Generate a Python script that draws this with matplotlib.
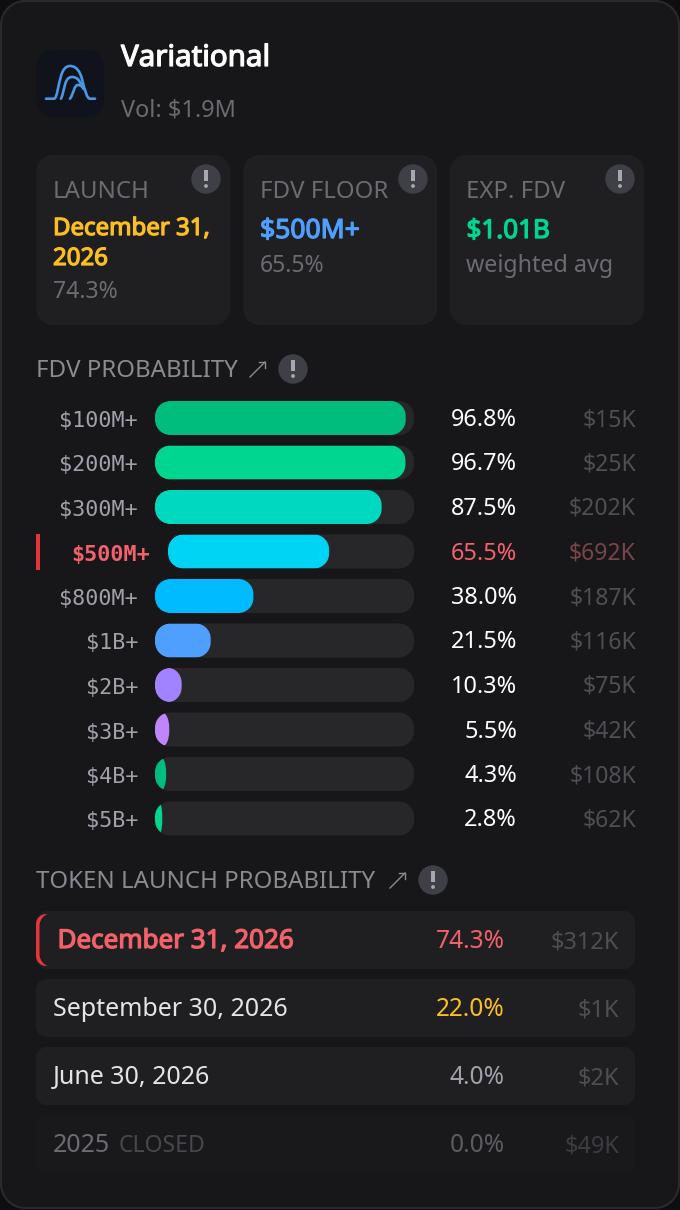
import matplotlib
matplotlib.use("Agg")
import matplotlib.pyplot as plt
import matplotlib.patheffects as pe
from matplotlib.patches import Circle, PathPatch, Rectangle
from matplotlib.path import Path

# fdv ladder
fdv_labels = ["$100M+", "$200M+", "$300M+", "$500M+", "$800M+", "$1B+", "$2B+", "$3B+", "$4B+", "$5B+"]
fdv_probs = [96.8, 96.7, 87.5, 65.5, 38.0, 21.5, 10.3, 5.5, 4.3, 2.8]
fdv_vols = ["$15K", "$25K", "$202K", "$692K", "$187K", "$116K", "$75K", "$42K", "$108K", "$62K"]
fdv_colors = ["#00bd7e", "#00d68f", "#00d9c0", "#00d4f5", "#00bbff", "#4f9fff", "#a183ff", "#c084fc", "#00bd7e", "#00d68f"]
fdv_active = 3

# launch dates
launch_dates = ["December 31, 2026", "September 30, 2026", "June 30, 2026", "2025"]
launch_probs = [74.3, 22.0, 4.0, 0.0]
launch_vols = ["$312K", "$1K", "$2K", "$49K"]
launch_pct_colors = ["#f2626b", "#fbbf24", "#a1a1aa", "#5c5c63"]

# summary tiles
tile_titles = ["LAUNCH", "FDV FLOOR", "EXP. FDV"]
tile_subs = ["74.3%", "65.5%", "weighted avg"]

FONT = "Noto Sans"
MONO = "DejaVu Sans Mono"

fig = plt.figure(figsize=(6.8, 12.1), dpi=100, facecolor="#0e0e10")
ax = fig.add_axes([0, 0, 1, 1])
ax.set_xlim(0, 680)
ax.set_ylim(1210, 0)
ax.axis("off")


def rrect(x0, y0, x1, y1, rx, ry=None):
    # rounded rectangle with elliptical corners
    ry = rx if ry is None else ry
    k = 0.45
    v = [(x0 + rx, y0), (x1 - rx, y0),
         (x1 - rx * k, y0), (x1, y0 + ry * k), (x1, y0 + ry),
         (x1, y1 - ry),
         (x1, y1 - ry * k), (x1 - rx * k, y1), (x1 - rx, y1),
         (x0 + rx, y1),
         (x0 + rx * k, y1), (x0, y1 - ry * k), (x0, y1 - ry),
         (x0, y0 + ry),
         (x0, y0 + ry * k), (x0 + rx * k, y0), (x0 + rx, y0), (x0 + rx, y0)]
    c = [Path.MOVETO, Path.LINETO,
         Path.CURVE4, Path.CURVE4, Path.CURVE4,
         Path.LINETO,
         Path.CURVE4, Path.CURVE4, Path.CURVE4,
         Path.LINETO,
         Path.CURVE4, Path.CURVE4, Path.CURVE4,
         Path.LINETO,
         Path.CURVE4, Path.CURVE4, Path.CURVE4, Path.CLOSEPOLY]
    return Path(v, c)


def box(x0, y0, x1, y1, r, color, ec="none", lw=0, ry=None, z=1):
    p = PathPatch(rrect(x0, y0, x1, y1, r, ry), fc=color, ec=ec, lw=lw, zorder=z)
    ax.add_patch(p)
    return p


def txt(x, y, s, px, color, weight="normal", ha="left", family=FONT):
    t = ax.text(x, y, s, fontsize=px * 0.72, color=color, fontweight=weight,
                ha=ha, va="baseline", family=family, zorder=6)
    # Noto Sans only ships one weight here, so thicken the outline for bold
    if weight == "bold" and family == FONT:
        t.set_fontweight("normal")
        t.set_path_effects([pe.withStroke(linewidth=0.9, foreground=color)])
    return t


def badge(x, y):
    ax.add_patch(Circle((x, y), 14.7, fc="#3f3f46", ec="none", zorder=4))
    ax.add_patch(Rectangle((x - 1.6, y - 9), 3.2, 11, fc="#a8a8b0", ec="none", zorder=5))
    ax.add_patch(Circle((x, y + 7), 1.9, fc="#a8a8b0", ec="none", zorder=5))


def arrow(x, y):
    ax.plot([x, x + 15], [y + 15, y], color="#8a8a92", lw=1.0, zorder=5)
    ax.plot([x + 9, x + 15, x + 15], [y, y, y + 6], color="#8a8a92", lw=1.0, zorder=5)


# card
box(1, 1, 679, 1208, 24, "#17171a", ec="#2a2a2e", lw=1.5)

# header logo
box(36.5, 50, 104, 117, 16, "#10131c", z=2)
M, L, C = Path.MOVETO, Path.LINETO, Path.CURVE4
hump1 = Path([(46, 98.7), (54, 98.7), (57, 98.7), (58, 86), (61, 76), (63, 69), (66, 66), (70, 66),
              (76, 66), (80, 71), (82, 79), (85, 91), (87, 98.7), (90, 98.7), (95, 98.7)],
             [M, L, C, C, C, C, C, C, C, C, C, C, C, C, L])
hump2 = Path([(61, 98.7), (65, 90), (64, 77), (72, 77), (77, 77), (79, 80), (81, 84)],
             [M, C, C, C, C, C, C])
hump3 = Path([(70, 98.7), (74, 93), (74, 85), (78, 85), (80, 85), (82, 86), (83.5, 89)],
             [M, C, C, C, C, C, C])
for h in (hump1, hump2, hump3):
    ax.add_patch(PathPatch(h, fc="none", ec="#4a97e6", lw=1.9, zorder=3, capstyle="round"))

txt(121, 66, "Variational", 29.5, "#ffffff", "bold")
txt(121, 117, "Vol: $1.9M", 23.5, "#6b6b73")

# summary tiles
tile_x = [(36.5, 230), (243.5, 437), (450, 644)]
for i, (x0, x1) in enumerate(tile_x):
    box(x0, 155, x1, 325, 16, "#1f1f22")
    badge(x1 - 24, 179)
    txt(x0 + 16.5, 198, tile_titles[i], 24, "#6b6b73")

txt(53, 235, "December 31,", 24, "#fbbf24", "bold")
txt(53, 265, "2026", 24, "#fbbf24", "bold")
txt(53, 298, tile_subs[0], 23, "#6b6b73")
txt(260, 238, "$500M+", 26.5, "#4f9fff", "bold")
txt(260, 272, tile_subs[1], 23, "#6b6b73")
txt(466.5, 238, "$1.01B", 26, "#00d68f", "bold")
txt(466.5, 272, tile_subs[2], 23.3, "#6b6b73")

# fdv section
txt(36.5, 377, "FDV PROBABILITY", 24, "#8a8a92")
arrow(250, 362)
badge(293, 369)

row_y0 = 418
row_step = 44.5
for i, lab in enumerate(fdv_labels):
    cy = row_y0 + i * row_step
    active = i == fdv_active
    left = 168 if active else 155
    right = 414
    track = box(left, cy - 17, right, cy + 17, 15, "#27272a", z=2)
    w = (right - left) * fdv_probs[i] / 100
    bar = box(left, cy - 17, left + w, cy + 17, min(15, w / 2), fdv_colors[i], ry=15, z=3)
    bar.set_clip_path(track.get_path(), track.get_transform())
    if active:
        ax.add_patch(Rectangle((36, cy - 18), 3.5, 36, fc="#e5353c", ec="none", zorder=3))
        txt(150, cy + 9, lab, 21.8, "#f2626b", "bold", "right", MONO)
    else:
        txt(138, cy + 9, lab, 21.8, "#a1a1aa", "normal", "right", MONO)
    txt(517, cy + 8, "%.1f%%" % fdv_probs[i], 23.5, "#f2626b" if active else "#ffffff", ha="right")
    txt(636, cy + 8, fdv_vols[i], 23, "#7a4448" if active else "#4e4e55", ha="right")

# launch section
txt(36.5, 888, "TOKEN LAUNCH PROBABILITY", 24, "#8a8a92")
arrow(390, 873)
badge(433, 880)

date_colors = ["#f2626b", "#e4e4e7", "#e4e4e7", "#6b6b73"]
row_tops = [911, 979, 1047, 1115]
for i, d in enumerate(launch_dates):
    y0 = row_tops[i]
    fill = "#19191c" if i == 3 else "#1f1f22"
    box(36, y0, 635, y0 + 58, 11, fill, z=1)
    if i == 0:
        # red accent hugging the left edge
        box(36, y0 + 3, 60, y0 + 55, 10, "#e5353c", z=2)
        box(39.5, y0 + 2, 72, y0 + 56, 13, fill, z=2)
    weight = "bold" if i == 0 else "normal"
    x = 57.5 if i == 0 else 53
    txt(x, y0 + 37, d, 26 if i == 0 else 25, date_colors[i], weight)
    txt(504.5, y0 + 37, "%.1f%%" % launch_probs[i], 24.5, launch_pct_colors[i], ha="right")
    txt(619, y0 + 37, launch_vols[i], 23.5, "#4e4e55" if i < 3 else "#3c3c42", ha="right")
txt(119, 1152, "CLOSED", 23, "#47474d")

fig.savefig("out.png", dpi=100, facecolor=fig.get_facecolor())
